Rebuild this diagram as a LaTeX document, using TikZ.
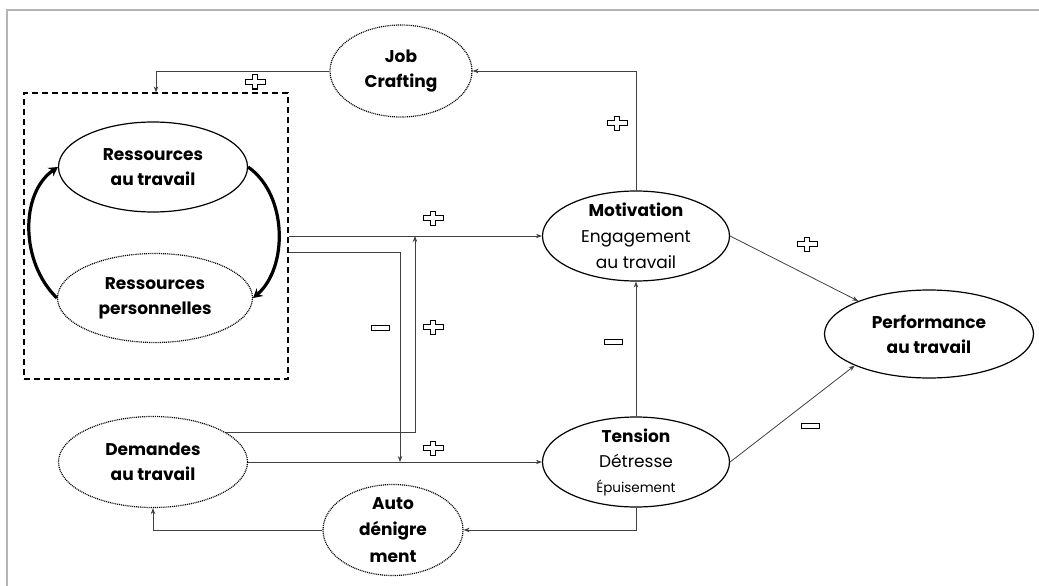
\documentclass[tikz,border=0pt]{standalone}
\usepackage{fontspec}
\setmainfont{Poppins}
\usepackage{tikz}
\usetikzlibrary{arrows.meta,shapes.geometric,calc}
\usepackage{xcolor}
\definecolor{framegray}{HTML}{B4B4B4}
\definecolor{linegray}{HTML}{404040}

\begin{document}
\begin{tikzpicture}[
  x=1pt, y=-1pt,
  bubble/.style={
    ellipse,
    draw=black,
    line width=1.2pt,
    inner sep=-25pt,
    align=center,
    font=\fontsize{17}{25}\selectfont,
    minimum width=189pt,
    minimum height=90pt
  },
  dotbubble/.style={
    bubble,
    dash pattern=on 1pt off 0.9pt
  },
  groupbox/.style={
    draw=black,
    line width=1.2pt,
    dash pattern=on 6pt off 4pt,
    inner sep=0pt,
    minimum width=264pt,
    minimum height=286pt
  },
  linkarrow/.style={
    -{Stealth[length=6pt,width=4.5pt]},
    line width=0.8pt,
    draw=linegray
  },
  looparrow/.style={
    -{Stealth[length=9pt,width=10pt]},
    line width=3.2pt
  },
  plussign/.pic={
    \draw[line width=1pt, fill=white] (-2.5,-7) -- (2.5,-7) -- (2.5,-2.5) -- (10,-2.5) -- (10,2.5) -- (2.5,2.5) -- (2.5,7) -- (-2.5,7) -- (-2.5,2.5) -- (-10,2.5) -- (-10,-2.5) -- (-2.5,-2.5) -- cycle;
  },
  minussign/.pic={
    \draw[line width=1pt, fill=white] (-9,-2.5) rectangle (9,2.5);
  }
]
  \useasboundingbox (0,0) rectangle (1039,586);
  \draw[framegray, line width=1.5pt] (7,586) -- (7,10) -- (1039,10);

  % =========================================================================
  % RESOURCES GROUP
  % =========================================================================
  \node[groupbox] (box) at (156,236) {};
  \node[bubble] (rt) at (153,167) {\textbf{Ressources}\\\textbf{au travail}};
  \node[dotbubble, minimum width=195pt, minimum height=89pt] (rp) at (155,298) {\textbf{Ressources}\\\textbf{personnelles}};

  \draw[looparrow] (rp.west) .. controls (20,262) and (20,193) .. (rt.west);
  \draw[looparrow] (rt.east) .. controls (288,195) and (288,268) .. (rp.east);

  % =========================================================================
  % OTHER NODES
  % =========================================================================
  \node[dotbubble, minimum width=142pt, minimum height=92pt] (job) at (401,71) {\textbf{Job}\\\textbf{Crafting}};
  \node[dotbubble, minimum height=91pt] (dem) at (153,462) {\textbf{Demandes}\\\textbf{au travail}};
  \node[dotbubble, minimum width=140pt, minimum height=91pt, font=\fontsize{17}{26.5}\selectfont] (auto) at (393,530) {\textbf{Auto}\\\textbf{dénigre}\\\textbf{ment}};
  \node[bubble, minimum width=187pt, font=\fontsize{17}{26}\selectfont] (motiv) at (636,236) {\textbf{Motivation}\\Engagement\\au travail};
  \node[bubble, minimum width=187pt, font=\fontsize{17}{25}\selectfont] (tension) at (636,462) {\textbf{Tension}\\Détresse\\{\fontsize{13.5}{15}\selectfont Épuisement}};
  \node[bubble, minimum width=209pt, minimum height=88pt] (perf) at (929,334) {\textbf{Performance}\\\textbf{au travail}};

  \coordinate (mergehigh) at (415,236);
  \coordinate (mergelow) at (400,462);

  % =========================================================================
  % CONNECTORS
  % =========================================================================
  \draw[linkarrow] (motiv.north) |- (job.east);
  \draw[linkarrow] (job.west) -| (box.north);
  \draw[linkarrow] (box.east) -- (motiv.west);
  \draw[linkarrow] ($(box.east)+(0,16)$) -| (mergelow);
  \draw[linkarrow] (dem.22) -| (mergehigh);
  \draw[linkarrow] (dem.east) -- (tension.west);
  \draw[linkarrow] (tension.north) -- (motiv.south);
  \draw[linkarrow] (tension.south) |- (auto.east);
  \draw[linkarrow] (auto.west) -| (dem.south);
  \draw[linkarrow] (motiv.east) -- (perf.155);
  \draw[linkarrow] (tension.east) -- (perf.203);

  % Signs
  \pic at (255,82) {plussign};
  \pic at (617,123) {plussign};
  \pic at (433,218) {plussign};
  \pic at (380,328) {minussign};
  \pic at (433,327) {plussign};
  \pic at (433,448) {plussign};
  \pic at (613,342) {minussign};
  \pic at (807,244) {plussign};
  \pic at (810,426) {minussign};

\end{tikzpicture}
\end{document}
